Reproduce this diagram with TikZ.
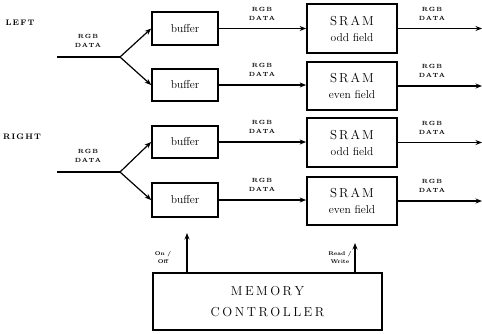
\documentclass[tikz,border=0pt]{standalone}
\usetikzlibrary{arrows.meta}
\begin{document}
\begin{tikzpicture}[x=1pt,y=-1pt,
  box/.style={draw,line width=1.7pt,inner sep=0pt,align=center},
  lab/.style={font=\fontsize{6}{7.5}\selectfont\bfseries,align=center,inner sep=0pt},
  side/.style={font=\fontsize{8}{9}\selectfont\bfseries,inner sep=0pt},
  conn/.style={line width=1.2pt},
  arr/.style={conn,-{Stealth[length=6.5pt,width=5pt]}},
  btxt/.style={font=\fontsize{11.5}{13}\selectfont},
  stxt/.style={font=\fontsize{11.5}{16}\selectfont}
]
\useasboundingbox (0,0) rectangle (482,333);
% buffers
\node[box,btxt,minimum width=66pt,minimum height=33pt] (b1) at (185,28.5) {buffer};
\node[box,btxt,minimum width=66pt,minimum height=32pt] (b2) at (185,85) {buffer};
\node[box,btxt,minimum width=66pt,minimum height=32pt] (b3) at (185,142) {buffer};
\node[box,btxt,minimum width=66pt,minimum height=34pt] (b4) at (185,200) {buffer};
% SRAMs
\newcommand{\sramtxt}{{\fontsize{13}{16}\selectfont S\kern2pt R\kern2pt A\kern2pt M}}
\node[box,stxt,minimum width=90pt,minimum height=49pt] (s1) at (352,28.5) {\sramtxt\\odd field};
\node[box,stxt,minimum width=90pt,minimum height=48pt] (s2) at (352,86) {\sramtxt\\even field};
\node[box,stxt,minimum width=90pt,minimum height=49pt] (s3) at (352,142.5) {\sramtxt\\odd field};
\node[box,stxt,minimum width=90pt,minimum height=48pt] (s4) at (352,201) {\sramtxt\\even field};
% memory controller
\node[box,font=\fontsize{13}{21}\selectfont,minimum width=229pt,minimum height=57pt] (mc) at (267.5,301.5)
  {M\kern2.5pt E\kern2.5pt M\kern2.5pt O\kern2.5pt R\kern2.5pt Y\\C\kern2.5pt O\kern2.5pt N\kern2.5pt T\kern2.5pt R\kern2.5pt O\kern2.5pt L\kern2.5pt L\kern2.5pt E\kern2.5pt R};
% side labels
\node[side] (left) at (20,23) {L\kern1.2pt E\kern1.2pt F\kern1.2pt T};
\node[side] (right) at (22,137) {R\kern1.2pt I\kern1.2pt G\kern1.2pt H\kern1.2pt T};
% inputs
\coordinate (inL) at (57,57);
\coordinate (fL) at (120,57);
\coordinate (inR) at (57,172);
\coordinate (fR) at (120,172);
\node[lab] (labL) at (88,41) {R\kern1pt G\kern1pt B\\[1.5pt]D\kern0.6pt A\kern0.6pt T\kern0.6pt A};
\node[lab] (labR) at (88,156) {R\kern1pt G\kern1pt B\\[1.5pt]D\kern0.6pt A\kern0.6pt T\kern0.6pt A};
\draw[conn] (inL) -- (fL);
\draw[arr] (fL) -- (b1.west);
\draw[arr] (fL) -- (b2.west);
\draw[conn] (inR) -- (fR);
\draw[arr] (fR) -- (b3.west);
\draw[arr] (fR) -- (b4.west);
% buffer to sram
\foreach \i/\y in {1/28.5,2/85,3/142,4/200}{
  \draw[arr] (b\i.east |- 0,\y) -- (s\i.west |- 0,\y);
  \node[lab] at (262,\y-15) {R\kern1pt G\kern1pt B\\[1.5pt]D\kern0.6pt A\kern0.6pt T\kern0.6pt A};
}
% outputs
\foreach \i/\y in {1/28.5,2/86,3/142.5,4/201}{
  \coordinate (o\i) at (482,\y);
  \draw[arr] (s\i.east) -- (o\i);
  \node[lab] at (432,\y-15) {R\kern1pt G\kern1pt B\\[1.5pt]D\kern0.6pt A\kern0.6pt T\kern0.6pt A};
}
% control arrows
\coordinate (onoff) at (187,233);
\coordinate (rw) at (355,243);
\draw[arr] (mc.north -| onoff) -- (onoff);
\draw[arr] (mc.north -| rw) -- (rw);
\node[lab,font=\fontsize{5.5}{8}\selectfont\bfseries] (lon) at (163,257) {On /\\Off};
\node[lab,font=\fontsize{5.5}{8}\selectfont\bfseries] (lrw) at (340,257) {Read /\\Write};
\end{tikzpicture}
\end{document}
